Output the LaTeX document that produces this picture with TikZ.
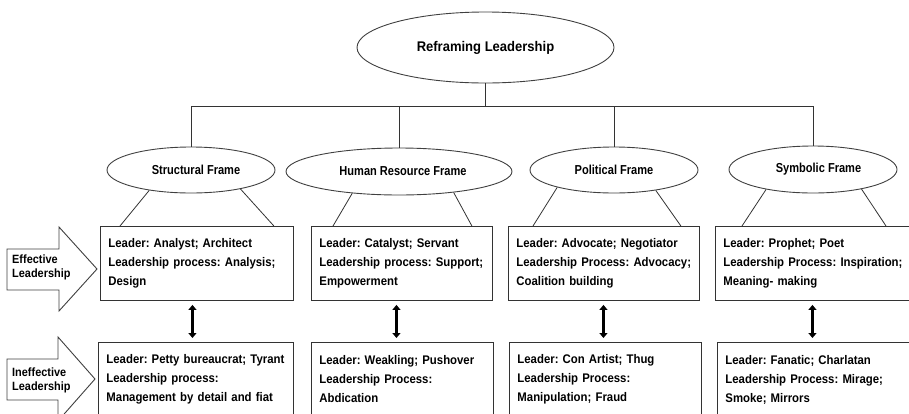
\documentclass[tikz,border=0pt]{standalone}
\usepackage{fontspec}
\setmainfont{Liberation Sans}
\newfontfamily\boxfont{Liberation Sans Bold}[FakeStretch=0.91]
\newfontfamily\framefont{Liberation Sans Bold}[FakeStretch=0.85]
\newfontfamily\titlefont{Liberation Sans Bold}[FakeStretch=0.93]
\usetikzlibrary{shapes.geometric,arrows.meta,calc}
\begin{document}
\frenchspacing
\begin{tikzpicture}[x=1pt,y=-1pt,
  ln/.style={draw=black!80, line width=0.8pt},
  frame/.style={ellipse, draw=black!75, line width=0.9pt, inner sep=0pt,
    font=\framefont\fontsize{13}{15}\selectfont},
  box/.style={rectangle, draw=black!80, line width=0.9pt, anchor=north west,
    minimum height=74pt, inner xsep=8pt, inner ysep=0pt, align=left,
    font=\boxfont\fontsize{12.5}{19}\selectfont},
  dbl/.style={line width=2.8pt, shorten >=4pt,
    {Triangle[length=5pt,width=8pt]}-{Triangle[length=5pt,width=8pt]}},
  barrow/.style={draw=black!75, line width=0.9pt, fill=white, line join=miter},
  lab/.style={anchor=west, align=left, inner sep=0pt,
    font=\boxfont\fontsize{12}{14}\selectfont}
]
\useasboundingbox (0,0) rectangle (909,413);
\clip (0,0) rectangle (909,413);

% title and frames
\node[ellipse, draw=black!75, line width=0.9pt, inner sep=0pt,
  minimum width=257pt, minimum height=71pt,
  font=\titlefont\fontsize{14}{16}\selectfont] (top) at (485.5,47.5) {Reframing Leadership};
\node[frame, minimum width=168pt, minimum height=46pt] (s) at (191,170) {\hspace*{10pt}Structural Frame};
\node[frame, minimum width=226pt, minimum height=47pt] (h) at (399,171.5) {\hspace*{8pt}Human Resource Frame};
\node[frame, minimum width=168pt, minimum height=46pt] (p) at (614,170) {Political Frame};
\node[frame, minimum width=168pt, minimum height=47pt] (sym) at (813,169.5) {\hspace*{11pt}Symbolic Frame};

% tree connectors
\coordinate (bar) at (0,106);
\draw[ln] (top.south) -- (top.south |- bar);
\draw[ln] (s.north |- bar) -- (sym.north |- bar);
\foreach \n in {s,h,p,sym} \draw[ln] (\n.north |- bar) -- (\n.north);

% effective boxes
\node[box, minimum width=193pt, text width=177pt] (b1) at (100,226)
  {\mbox{Leader: Analyst; Architect}\\\mbox{Leadership process: Analysis;}\\Design};
\node[box, minimum width=181pt, text width=165pt] (b2) at (311,226)
  {\mbox{Leader: Catalyst; Servant}\\\mbox{Leadership process: Support;}\\Empowerment};
\node[box, minimum width=191pt, text width=175pt] (b3) at (508,226)
  {\mbox{Leader: Advocate; Negotiator}\\\mbox{Leadership Process: Advocacy;}\\\mbox{Coalition building}};
\node[box, minimum width=200pt, text width=184pt] (b4) at (715,226)
  {\mbox{Leader: Prophet; Poet}\\\mbox{Leadership Process: Inspiration;}\\\mbox{Meaning- making}};

% ineffective boxes
\node[box, minimum width=195pt, text width=179pt] (c1) at (98,342)
  {\mbox{Leader: Petty bureaucrat; Tyrant}\\\mbox{Leadership process:}\\\mbox{Management by detail and fiat}};
\node[box, minimum width=182pt, text width=166pt] (c2) at (311,342)
  {\mbox{Leader: Weakling; Pushover}\\\mbox{Leadership Process:}\\Abdication};
\node[box, minimum width=192pt, text width=176pt] (c3) at (509,342)
  {\mbox{Leader: Con Artist; Thug}\\\mbox{Leadership Process:}\\\mbox{Manipulation; Fraud}};
\node[box, minimum width=200pt, text width=184pt] (c4) at (717,342)
  {\mbox{Leader: Fanatic; Charlatan}\\\mbox{Leadership Process: Mirage;}\\\mbox{Smoke; Mirrors}};

% frame to box connectors
\draw[ln] (s.206) -- ($(b1.north west)+(20,0)$);
\draw[ln] (s.339) -- ($(b1.north east)+(-20,0)$);
\draw[ln] (h.205) -- ($(b2.north west)+(22,0)$);
\draw[ln] (h.339) -- ($(b2.north east)+(-21,0)$);
\draw[ln] (p.197) -- ($(b3.north west)+(25,0)$);
\draw[ln] (p.334) -- ($(b3.north east)+(-19,0)$);
\draw[ln] (sym.203) -- ($(b4.north west)+(27,0)$);
\draw[ln] (sym.338) -- ($(b4.north west)+(171,0)$);

% double arrows
\draw[dbl] ([xshift=-4.5pt,yshift=-4pt]b1.south) -- ([xshift=-4.5pt]b1.south |- c1.north);
\draw[dbl] ([xshift=-5.5pt,yshift=-4pt]b2.south) -- ([xshift=-5.5pt]b2.south |- c2.north);
\draw[dbl] ([xshift=-0.5pt,yshift=-4pt]b3.south) -- ([xshift=-0.5pt]b3.south |- c3.north);
\draw[dbl] ([xshift=-3pt,yshift=-4pt]b4.south) -- ([xshift=-3pt]b4.south |- c4.north);

% block arrows
\draw[barrow] (7,249) -- (59,249) -- (59,227) -- (97,269) -- (59,311) -- (59,290) -- (7,290) -- cycle;
\node[lab] (eff) at (12,267.5) {Effective\\Leadership};
\draw[barrow] (7,359) -- (58,359) -- (58,337) -- (95,379) -- (58,421) -- (58,400) -- (7,400) -- cycle;
\node[lab] (ineff) at (12,380) {Ineffective\\Leadership};
\end{tikzpicture}
\end{document}
